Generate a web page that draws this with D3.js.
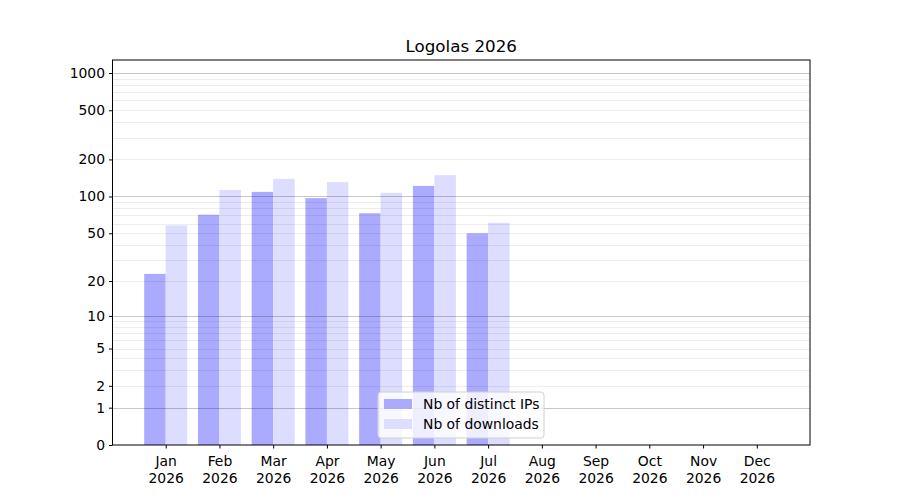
<!DOCTYPE html>
<html>
<head>
<meta charset="utf-8">
<script src="https://cdn.jsdelivr.net/npm/d3@7"></script>
<style>
  body { margin: 0; background: #fff; }
  text { font-family: "DejaVu Sans", sans-serif; }
</style>
</head>
<body>
<svg id="chart" width="900" height="500"></svg>
<script>
// monthly stats
var months = ["Jan", "Feb", "Mar", "Apr", "May", "Jun", "Jul", "Aug", "Sep", "Oct", "Nov", "Dec"];
var year = "2026";
var distinctIPs = [23, 71, 109, 97, 73, 122, 50, 0, 0, 0, 0, 0];
var downloads = [58, 113, 139, 131, 107, 149, 61, 0, 0, 0, 0, 0];
var yTicks = [0, 1, 2, 5, 10, 20, 50, 100, 200, 500, 1000];
var majorGrid = [1, 10, 100, 1000];

var svg = d3.select("#chart");
// note: "top" is taken by window.top, so plot edges get their own names
var plotL = 112.5, plotR = 810, plotT = 60, plotB = 445;

var x = d3.scaleLinear().domain([-0.99, 11.99]).range([plotL, plotR]);
var y = d3.scaleSymlog().constant(1).domain([0, 1273]).range([plotB, plotT]);

// bars
var barW = 0.4;
svg.append("g").selectAll("rect")
  .data(distinctIPs)
  .enter().append("rect")
  .attr("x", function(d, i) { return x(i - barW); })
  .attr("width", x(barW) - x(0))
  .attr("y", function(d) { return y(d); })
  .attr("height", function(d) { return plotB - y(d); })
  .attr("fill", "#aaaaff");

svg.append("g").selectAll("rect")
  .data(downloads)
  .enter().append("rect")
  .attr("x", function(d, i) { return x(i); })
  .attr("width", x(barW) - x(0))
  .attr("y", function(d) { return y(d); })
  .attr("height", function(d) { return plotB - y(d); })
  .attr("fill", "#ddddff");

// minor grid lines
var minor = [];
[1, 10, 100].forEach(function(b) {
  for (var k = 2; k <= 9; k++) minor.push(b * k);
});
var grid = svg.append("g");
grid.selectAll("line.minor")
  .data(minor)
  .enter().append("line")
  .attr("class", "minor")
  .attr("x1", plotL).attr("x2", plotR)
  .attr("y1", function(d) { return Math.round(y(d)) + 0.5; })
  .attr("y2", function(d) { return Math.round(y(d)) + 0.5; })
  .attr("stroke", "rgba(0,0,0,0.07)")
  .attr("stroke-width", 1);

grid.selectAll("line.major")
  .data(majorGrid)
  .enter().append("line")
  .attr("class", "major")
  .attr("x1", plotL).attr("x2", plotR)
  .attr("y1", function(d) { return Math.round(y(d)) + 0.5; })
  .attr("y2", function(d) { return Math.round(y(d)) + 0.5; })
  .attr("stroke", "rgba(0,0,0,0.22)")
  .attr("stroke-width", 1);

// axes
var yAxis = d3.axisLeft(y).tickValues(yTicks).tickFormat(d3.format("d")).tickSize(3.5).tickPadding(4);
var gy = svg.append("g").attr("transform", "translate(" + plotL + ",0)").call(yAxis);
gy.select(".domain").remove();
gy.selectAll("text").style("font-size", "13.9px").attr("fill", "#000");
gy.selectAll("line").attr("stroke", "#000");

var xAxis = d3.axisBottom(x).tickValues(d3.range(12)).tickFormat("").tickSize(3.5);
var gx = svg.append("g").attr("transform", "translate(0," + plotB + ")").call(xAxis);
gx.select(".domain").remove();
gx.selectAll("line").attr("stroke", "#000");
gx.selectAll(".tick").each(function(d) {
  var t = d3.select(this).append("text")
    .attr("fill", "#000")
    .attr("text-anchor", "middle")
    .style("font-size", "13.9px");
  t.append("tspan").attr("x", 0).attr("y", 21).text(months[d]);
  t.append("tspan").attr("x", 0).attr("y", 38).text(year);
});

// frame
svg.append("rect")
  .attr("x", plotL).attr("y", plotT)
  .attr("width", plotR - plotL).attr("height", plotB - plotT)
  .attr("fill", "none").attr("stroke", "#000").attr("stroke-width", 1);

// title
svg.append("text")
  .attr("x", (plotL + plotR) / 2).attr("y", plotT - 8)
  .attr("text-anchor", "middle")
  .style("font-size", "16.7px")
  .text("Logolas 2026");

// legend
var leg = svg.append("g").attr("transform", "translate(378,392)");
leg.append("rect")
  .attr("width", 166).attr("height", 46).attr("rx", 3)
  .attr("fill", "rgba(255,255,255,0.8)")
  .attr("stroke", "#d0d0d0");
var items = [["Nb of distinct IPs", "#aaaaff"], ["Nb of downloads", "#ddddff"]];
items.forEach(function(it, i) {
  leg.append("rect")
    .attr("x", 6).attr("y", 7 + i * 20)
    .attr("width", 28).attr("height", 10)
    .attr("fill", it[1]);
  leg.append("text")
    .attr("x", 45).attr("y", 17 + i * 20)
    .style("font-size", "13.9px")
    .text(it[0]);
});
</script>
</body>
</html>
